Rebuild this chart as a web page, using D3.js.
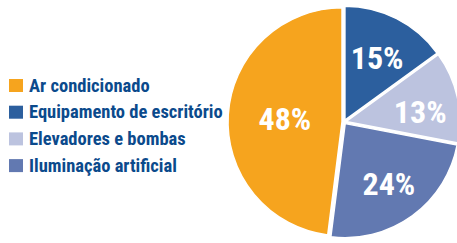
<!DOCTYPE html>
<html><head><meta charset="utf-8">
<script src="https://cdn.jsdelivr.net/npm/d3@7/dist/d3.min.js"></script>
<style>
html,body{margin:0;padding:0;background:#fff;}
svg{display:block;}
text{font-family:"Liberation Sans Narrow","Arial Narrow","Roboto Condensed","Liberation Sans",sans-serif;font-weight:bold;}
</style></head>
<body>
<svg id="chart" width="457" height="243"></svg>
<script>
const categories = ["Equipamento de escritório","Elevadores e bombas","Iluminação artificial","Ar condicionado"];
const values = [15, 13, 24, 48];
const colors = ["#2C5F9E","#BCC3DF","#6279B1","#F6A41E"];
const legendOrder = ["Ar condicionado","Equipamento de escritório","Elevadores e bombas","Iluminação artificial"];
const labelRadiusFactor = [0.64, 0.675, 0.67, 0.52];
const labelAngleNudge = [0, 0.08, 0, 0];

const svg = d3.select("#chart");
const cx = 344, cy = 122, R = 114, explode = 2;

const pie = d3.pie().sort(null).value(d => d).startAngle(0).endAngle(2*Math.PI);
const arcs = pie(values);
const arc = d3.arc().innerRadius(0).outerRadius(R);
const shift = d => {
  const m = (d.startAngle + d.endAngle)/2;
  return [explode*Math.sin(m), -explode*Math.cos(m)];
};

const g = svg.append("g").attr("transform", `translate(${cx},${cy})`);
g.selectAll("path.slice").data(arcs).join("path").attr("class","slice")
  .attr("transform", d => `translate(${shift(d)})`)
  .attr("d", arc).attr("fill", (d,i) => colors[i])
  .attr("stroke","#fff").attr("stroke-width",1.5).attr("stroke-linejoin","round");

g.selectAll("text.lbl").data(arcs).join("text").attr("class","lbl")
  .attr("transform", (d,i) => {
    const m = (d.startAngle + d.endAngle)/2 + labelAngleNudge[i];
    const r = R*labelRadiusFactor[i];
    return `translate(${r*Math.sin(m)},${-r*Math.cos(m)})`;
  })
  .attr("text-anchor","middle").attr("dy","0.36em")
  .attr("fill","#fff").attr("font-size",32)
  .text(d => d.value + "%");

const leg = svg.append("g").attr("transform","translate(9,79)");
const rowH = 26.7;
legendOrder.forEach((name, k) => {
  const i = categories.indexOf(name);
  const row = leg.append("g").attr("transform", `translate(0,${k*rowH})`);
  row.append("rect").attr("width",14).attr("height",13).attr("fill",colors[i]);
  row.append("text").attr("x",20).attr("y",12.7).attr("font-size",18.5).attr("fill","#0B4A8C").text(name);
});
</script>
</body></html>
